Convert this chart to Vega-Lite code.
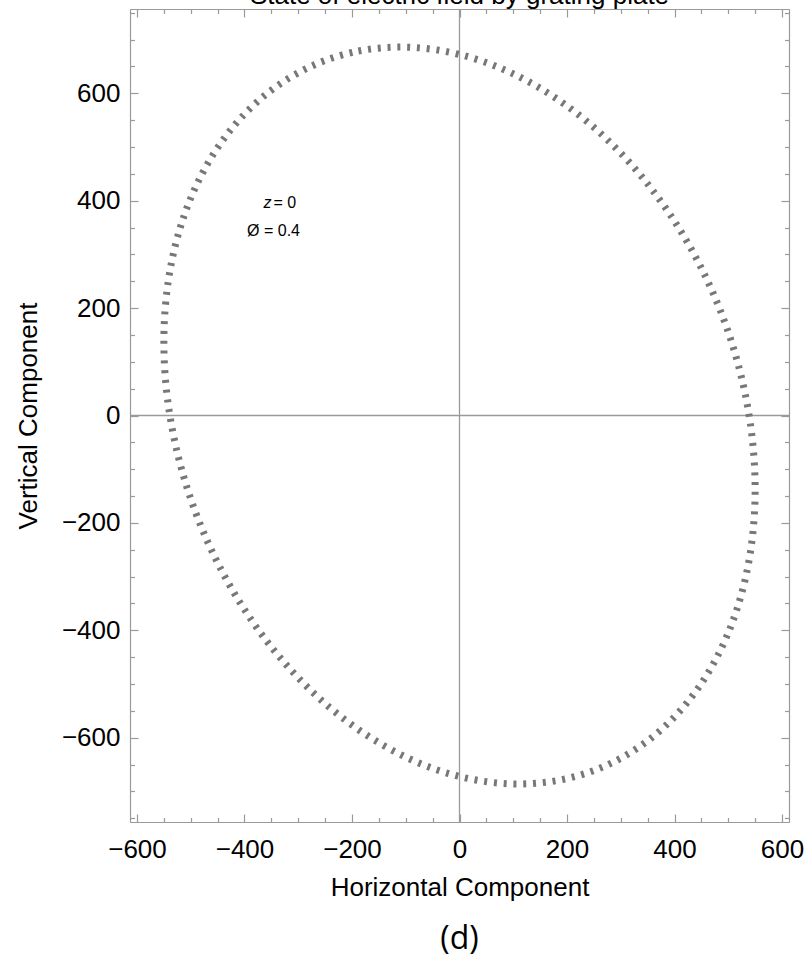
{
  "$schema": "https://vega.github.io/schema/vega-lite/v6.json",
  "width": 659,
  "height": 813,
  "autosize": {"type": "none"},
  "padding": {"left": 130, "top": 9, "right": 20, "bottom": 146},
  "background": "white",
  "title": {"text": "(d)", "orient": "bottom", "anchor": "middle", "font": "Open Sans", "fontSize": 32, "fontWeight": "normal", "color": "black", "offset": 24},
  "config": {
    "font": "Liberation Sans",
    "view": {"stroke": null},
    "axis": {
      "grid": false,
      "domainColor": "#9a9a9a",
      "domainWidth": 1.2,
      "tickColor": "#9a9a9a",
      "tickWidth": 1.2,
      "labelFont": "Liberation Sans",
      "labelFontSize": 26,
      "labelColor": "black",
      "titleFont": "Liberation Sans",
      "titleFontSize": 26,
      "titleFontWeight": "normal",
      "titleColor": "black"
    }
  },
  "datasets": {
    "ellipse": [
      {"i": 0, "h": -275, "v": 650.8},
      {"i": 1, "h": -188.1, "v": 678.7},
      {"i": 2, "h": -95.5, "v": 685.9},
      {"i": 3, "h": 0, "v": 672.3},
      {"i": 4, "h": 95.5, "v": 638.3},
      {"i": 5, "h": 188.1, "v": 584.9},
      {"i": 6, "h": 275, "v": 513.6},
      {"i": 7, "h": 353.5, "v": 426.8},
      {"i": 8, "h": 421.3, "v": 327.1},
      {"i": 9, "h": 476.3, "v": 217.4},
      {"i": 10, "h": 516.8, "v": 101.0},
      {"i": 11, "h": 541.6, "v": -18.4},
      {"i": 12, "h": 550, "v": -137.2},
      {"i": 13, "h": 541.6, "v": -251.8},
      {"i": 14, "h": 516.8, "v": -358.8},
      {"i": 15, "h": 476.3, "v": -455.0},
      {"i": 16, "h": 421.3, "v": -537.3},
      {"i": 17, "h": 353.5, "v": -603.2},
      {"i": 18, "h": 275, "v": -650.8},
      {"i": 19, "h": 188.1, "v": -678.7},
      {"i": 20, "h": 95.5, "v": -685.9},
      {"i": 21, "h": 0, "v": -672.3},
      {"i": 22, "h": -95.5, "v": -638.3},
      {"i": 23, "h": -188.1, "v": -584.9},
      {"i": 24, "h": -275, "v": -513.6},
      {"i": 25, "h": -353.5, "v": -426.8},
      {"i": 26, "h": -421.3, "v": -327.1},
      {"i": 27, "h": -476.3, "v": -217.4},
      {"i": 28, "h": -516.8, "v": -101.0},
      {"i": 29, "h": -541.6, "v": 18.4},
      {"i": 30, "h": -550, "v": 137.2},
      {"i": 31, "h": -541.6, "v": 251.8},
      {"i": 32, "h": -516.8, "v": 358.8},
      {"i": 33, "h": -476.3, "v": 455.0},
      {"i": 34, "h": -421.3, "v": 537.3},
      {"i": 35, "h": -353.5, "v": 603.2}
    ],
    "origin": [{"h": 0, "v": 0}],
    "notes": [
      {"label": "= 0", "h": -325, "v": 396},
      {"label": "Ø = 0.4", "h": -346, "v": 343}
    ],
    "notesItalic": [{"label": "z", "h": -357, "v": 396}],
    "header": [{"label": "State of electric field by grating plate", "h": 0, "v": 767}]
  },
  "layer": [
    {
      "data": {"name": "origin"},
      "mark": {"type": "rule", "color": "#9a9a9a", "strokeWidth": 1.3},
      "encoding": {"x": {"field": "h", "type": "quantitative", "axis": null}}
    },
    {
      "data": {"name": "origin"},
      "mark": {"type": "rule", "color": "#9a9a9a", "strokeWidth": 1.3},
      "encoding": {"y": {"field": "v", "type": "quantitative", "axis": null}}
    },
    {
      "data": {"name": "ellipse"},
      "mark": {"type": "line", "color": "#787878", "strokeWidth": 7, "strokeDash": [3, 6.8], "strokeCap": "butt", "interpolate": "cardinal-closed"},
      "encoding": {
        "x": {"field": "h", "type": "quantitative", "scale": {"domain": [-613, 613], "nice": false, "zero": false},
              "axis": {"orient": "bottom", "values": [-600, -400, -200, 0, 200, 400, 600], "tickSize": -8, "labelPadding": 22, "title": "Horizontal Component", "titlePadding": 12, "labelFlush": false, "labelOverlap": false}},
        "y": {"field": "v", "type": "quantitative", "scale": {"domain": [-757, 757], "nice": false, "zero": false},
              "axis": {"orient": "left", "values": [-600, -400, -200, 0, 200, 400, 600], "tickSize": -8, "labelPadding": 18, "title": "Vertical Component", "titlePadding": 20, "labelFlush": false, "labelOverlap": false}},
        "order": {"field": "i", "type": "quantitative"}
      }
    },
    {
      "data": {"name": "origin"},
      "mark": {"type": "point", "opacity": 0},
      "encoding": {
        "x": {"field": "h", "type": "quantitative", "axis": {"orient": "bottom", "values": [-550, -500, -450, -350, -300, -250, -150, -100, -50, 50, 100, 150, 250, 300, 350, 450, 500, 550], "tickSize": -4.5, "labels": false, "domain": false, "title": null}},
        "y": {"field": "v", "type": "quantitative", "axis": {"orient": "left", "values": [-750, -700, -650, -550, -500, -450, -350, -300, -250, -150, -100, -50, 50, 100, 150, 250, 300, 350, 450, 500, 550, 650, 700, 750], "tickSize": -4.5, "labels": false, "domain": false, "title": null}}
      }
    },
    {
      "data": {"name": "origin"},
      "mark": {"type": "point", "opacity": 0},
      "encoding": {
        "x": {"field": "h", "type": "quantitative", "axis": {"orient": "top", "values": [-600, -400, -200, 0, 200, 400, 600], "tickSize": -8, "labels": false, "title": null}},
        "y": {"field": "v", "type": "quantitative", "axis": {"orient": "right", "values": [-600, -400, -200, 0, 200, 400, 600], "tickSize": -8, "labels": false, "title": null}}
      }
    },
    {
      "data": {"name": "origin"},
      "mark": {"type": "point", "opacity": 0},
      "encoding": {
        "x": {"field": "h", "type": "quantitative", "axis": {"orient": "top", "values": [-550, -500, -450, -350, -300, -250, -150, -100, -50, 50, 100, 150, 250, 300, 350, 450, 500, 550], "tickSize": -4.5, "labels": false, "domain": false, "title": null}},
        "y": {"field": "v", "type": "quantitative", "axis": {"orient": "right", "values": [-750, -700, -650, -550, -500, -450, -350, -300, -250, -150, -100, -50, 50, 100, 150, 250, 300, 350, 450, 500, 550, 650, 700, 750], "tickSize": -4.5, "labels": false, "domain": false, "title": null}}
      }
    },
    {
      "data": {"name": "notes"},
      "mark": {"type": "text", "font": "Liberation Sans", "fontSize": 16, "color": "black", "align": "center", "baseline": "middle"},
      "encoding": {
        "x": {"field": "h", "type": "quantitative", "axis": null},
        "y": {"field": "v", "type": "quantitative", "axis": null},
        "text": {"field": "label"}
      }
    },
    {
      "data": {"name": "notesItalic"},
      "mark": {"type": "text", "font": "Liberation Sans", "fontSize": 16, "fontStyle": "italic", "color": "black", "align": "center", "baseline": "middle"},
      "encoding": {
        "x": {"field": "h", "type": "quantitative", "axis": null},
        "y": {"field": "v", "type": "quantitative", "axis": null},
        "text": {"field": "label"}
      }
    },
    {
      "data": {"name": "header"},
      "mark": {"type": "text", "font": "Liberation Sans", "fontSize": 26, "color": "black", "align": "center", "baseline": "alphabetic", "clip": false},
      "encoding": {
        "x": {"field": "h", "type": "quantitative", "axis": null},
        "y": {"field": "v", "type": "quantitative", "axis": null},
        "text": {"field": "label"}
      }
    }
  ],
  "resolve": {"axis": {"x": "independent", "y": "independent"}}
}
